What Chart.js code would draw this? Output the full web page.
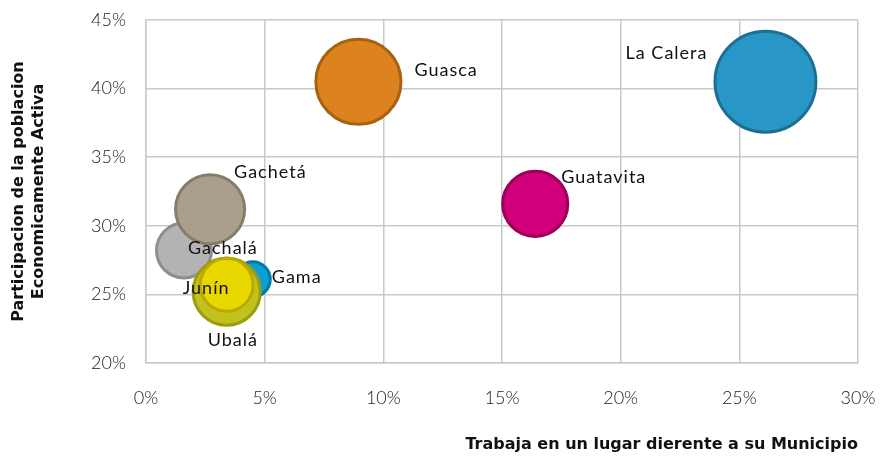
<!DOCTYPE html>
<html>
<head>
<meta charset="utf-8">
<script src="https://cdn.jsdelivr.net/npm/chart.js@4/dist/chart.umd.min.js"></script>
<style>
  html, body { margin: 0; padding: 0; background: #fff; }
  #wrap { width: 880px; height: 457px; }
</style>
</head>
<body>
<div id="wrap"><canvas id="bubbleChart" width="880" height="457"></canvas></div>
<script>
// municipios (drawing order: first ones end up underneath)
const municipios = ['Gachalá', 'Gachetá', 'Gama', 'Ubalá', 'Junín', 'Guasca', 'Guatavita', 'La Calera'];
// % que trabaja en un lugar diferente a su municipio
const trabajaFuera = [0.016, 0.027, 0.045, 0.034, 0.034, 0.0895, 0.164, 0.261];
// participacion de la poblacion economicamente activa
const participacionPEA = [0.282, 0.312, 0.261, 0.252, 0.257, 0.405, 0.316, 0.405];
// bubble size (relative)
const tamano = [8.4, 13.0, 3.6, 12.3, 7.8, 19.4, 11.6, 27.0];

const xTicks = ['0%', '5%', '10%', '15%', '20%', '25%', '30%'];
const yTicks = ['20%', '25%', '30%', '35%', '40%', '45%'];

const fills = ['#b3b3b3', '#a99f8b', '#0a9fd6', '#c2c21e', '#e9d700', '#dc821e', '#d1007a', '#2996c8'];
const borders = ['#8e8e8e', '#857c6a', '#0678a6', '#9c9c12', '#bca900', '#a8620f', '#9c005b', '#1b6f93'];

// label offsets from bubble centre (px)
const labelPos = [
    { dx: 4, dy: -2, align: 'left' },
    { dx: 24, dy: -37, align: 'left' },
    { dx: 19, dy: -2, align: 'left' },
    { dx: -19, dy: 49, align: 'left' },
    { dx: -44, dy: 3, align: 'left' },
    { dx: 56, dy: -12, align: 'left' },
    { dx: 26, dy: -27, align: 'left' },
    { dx: -58, dy: -29, align: 'right' }
];

const FONT = '"DejaVu Sans", sans-serif';
const THIN = 'Lato, "DejaVu Sans", sans-serif';

const bubbleLabels = {
    id: 'bubbleLabels',
    afterDatasetsDraw(chart) {
        const ctx = chart.ctx;
        const meta = chart.getDatasetMeta(0);
        ctx.save();
        ctx.font = '18px ' + THIN;
        ctx.letterSpacing = '1px';
        ctx.fillStyle = '#111';
        ctx.textBaseline = 'middle';
        meta.data.forEach((el, i) => {
            const p = labelPos[i];
            ctx.textAlign = p.align;
            ctx.fillText(municipios[i], el.x + p.dx, el.y + p.dy);
        });
        ctx.restore();
    }
};

const ctx = document.getElementById('bubbleChart').getContext('2d');
new Chart(ctx, {
    type: 'bubble',
    data: {
        labels: municipios,
        datasets: [{
            label: 'Municipios',
            data: municipios.map((m, i) => ({ x: trabajaFuera[i], y: participacionPEA[i], r: Math.sqrt(tamano[i]) * 10 - 1.5 })),
            backgroundColor: fills,
            borderColor: borders,
            borderWidth: 3,
            hoverRadius: 0
        }]
    },
    options: {
        responsive: false,
        animation: false,
        events: [],
        layout: { autoPadding: false, padding: { left: 0, right: 22, top: 20, bottom: 0 } },
        plugins: {
            legend: { display: false },
            tooltip: { enabled: false }
        },
        scales: {
            x: {
                type: 'linear',
                min: 0,
                max: 0.3,
                afterFit: s => { s.height = 94; s.paddingLeft = 0; s.paddingRight = 0; },
                ticks: {
                    stepSize: 0.05,
                    padding: 24,
                    color: '#1a1a1a',
                    font: { family: THIN, size: 18, weight: '300' },
                    callback: (v, i) => xTicks[i]
                },
                grid: { color: '#c9c9c9', lineWidth: 1.5, drawTicks: false },
                border: { color: '#c9c9c9', width: 1.5 },
                title: {
                    display: true,
                    text: 'Trabaja en un lugar dierente a su Municipio',
                    align: 'end',
                    color: '#111',
                    font: { family: FONT, size: 16, weight: 'bold' },
                    padding: { top: 0, bottom: 3 }
                }
            },
            y: {
                type: 'linear',
                min: 0.2,
                max: 0.45,
                afterFit: s => { s.width = 146; s.paddingTop = 0; s.paddingBottom = 0; },
                ticks: {
                    stepSize: 0.05,
                    padding: 20,
                    color: '#1a1a1a',
                    font: { family: THIN, size: 18, weight: '300' },
                    callback: (v, i) => yTicks[i]
                },
                grid: { color: '#c9c9c9', lineWidth: 1.5, drawTicks: false },
                border: { color: '#c9c9c9', width: 1.5 },
                title: {
                    display: true,
                    text: ['Participacion de la poblacion', 'Economicamente Activa'],
                    color: '#111',
                    font: { family: FONT, size: 16, weight: 'bold', lineHeight: 1.25 },
                    padding: { top: 9, bottom: 0 }
                }
            }
        }
    },
    plugins: [bubbleLabels]
});
</script>
</body>
</html>
